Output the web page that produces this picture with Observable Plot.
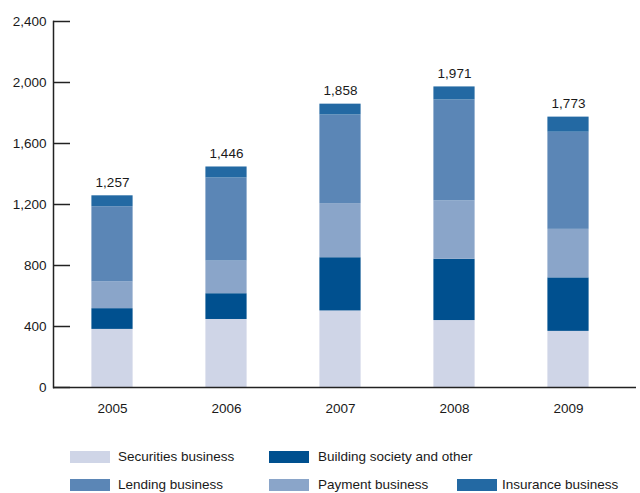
<!DOCTYPE html>
<html>
<head>
<meta charset="utf-8">
<script src="https://cdn.jsdelivr.net/npm/d3@7"></script>
<script src="https://cdn.jsdelivr.net/npm/@observablehq/plot@0.6"></script>
<style>
  html, body { margin: 0; padding: 0; background: #fff; }
  #wrap { position: relative; width: 640px; height: 493px; font-family: "Liberation Sans", Arial, sans-serif; color: #1a1a1a; }
  #chart { position: absolute; left: 0; top: 0; }
  .sw { position: absolute; width: 40px; height: 12px; }
  .lb { position: absolute; font-size: 13.5px; line-height: 16px; white-space: nowrap; }
</style>
</head>
<body>
<div id="wrap"><div id="chart"></div></div>
<script>
const years = ["2005", "2006", "2007", "2008", "2009"];
const seriesNames = ["Securities business", "Building society and other", "Payment business", "Lending business", "Insurance business"];
const securities = [381, 446, 502, 439, 368];
const building   = [136, 169, 349, 402, 351];
const payment    = [175, 214, 355, 383, 318];
const lending    = [493, 545, 581, 662, 637];
const insurance  = [72, 72, 71, 85, 99];
const totals     = [1257, 1446, 1858, 1971, 1773];
const totalLabels = ["1,257", "1,446", "1,858", "1,971", "1,773"];
const yTicks = [0, 400, 800, 1200, 1600, 2000, 2400];
const colors = ["#cfd5e7", "#00508f", "#8aa5c9", "#5b86b6", "#2369a3"];

const seriesValues = [securities, building, payment, lending, insurance];
const rows = [];
seriesNames.forEach((s, si) => years.forEach((y, yi) => rows.push({year: y, series: s, value: seriesValues[si][yi]})));
const totalRows = years.map((y, i) => ({year: y, total: totals[i], label: totalLabels[i]}));

const chart = Plot.plot({
  width: 640,
  height: 430,
  marginTop: 21,
  marginBottom: 43,
  marginLeft: 53,
  marginRight: 4,
  style: {fontFamily: '"Liberation Sans", Arial, sans-serif', fontSize: "13.5px", color: "#1a1a1a", background: "#fff"},
  x: {domain: years, range: [52.5, 626.5], padding: 0, label: null},
  y: {domain: [0, 2400], label: null},
  color: {domain: seriesNames, range: colors},
  marks: [
    Plot.barY(rows, {x: "year", y: "value", fill: "series", order: seriesNames, insetLeft: 36.4, insetRight: 36.4}),
    Plot.text(totalRows, {x: "year", y: "total", text: "label", dy: -13, fontSize: 13.5, fill: "#1a1a1a"}),
    Plot.axisY(yTicks, {tickSize: -17, tickPadding: 24, strokeWidth: 1.5, stroke: "#222", tickFormat: d3.format(","), label: null}),
    Plot.axisX({tickSize: 0, tickPadding: 16, label: null}),
    Plot.ruleY([0], {stroke: "#222", strokeWidth: 1.5}),
    Plot.frame({anchor: "left", stroke: "#222", strokeWidth: 1.5})
  ]
});
document.getElementById("chart").appendChild(chart);

// legend (HTML, below the plot)
const legendPos = [
  {sx: 70, lx: 118, y: 451},
  {sx: 269, lx: 318, y: 451},
  {sx: 269, lx: 318, y: 479},
  {sx: 70, lx: 118, y: 479},
  {sx: 457, lx: 502, y: 479}
];
const wrap = document.getElementById("wrap");
seriesNames.forEach((name, i) => {
  const p = legendPos[i];
  const sw = document.createElement("div");
  sw.className = "sw";
  sw.style.left = p.sx + "px";
  sw.style.top = p.y + "px";
  sw.style.background = colors[i];
  wrap.appendChild(sw);
  const lb = document.createElement("div");
  lb.className = "lb";
  lb.style.left = p.lx + "px";
  lb.style.top = (p.y - 2) + "px";
  lb.textContent = name;
  wrap.appendChild(lb);
});
</script>
</body>
</html>
